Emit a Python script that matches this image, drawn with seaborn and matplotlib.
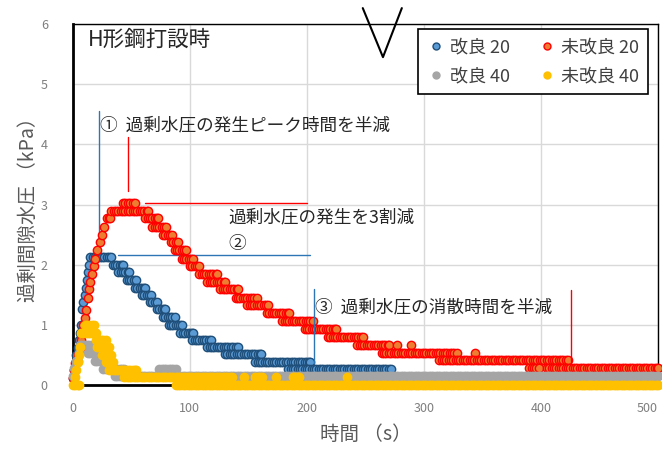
import numpy as np
import pandas as pd
import seaborn as sns
import matplotlib.pyplot as plt
from matplotlib.lines import Line2D

# 記録間隔 (s)
dt = 2.0

# 各系列: 一定値が続いた区間 (開始時刻, 終了時刻, 過剰間隙水圧 kPa)
blue_t0 = [0, 1, 3, 4, 5, 6, 7, 8, 9, 10, 11, 12, 13, 14,
           15, 34, 39, 46, 53, 59, 66, 72, 77, 82, 92, 102, 115, 130, 156, 184]
blue_t1 = [0, 1, 3, 4, 5, 6, 7, 8, 9, 10, 11, 12, 13, 14,
           33, 43, 48, 54, 62, 67, 72, 79, 87, 93, 103, 118, 141, 161, 203, 272]
blue_v = [0.12, 0.25, 0.50, 0.62, 0.75, 0.87, 1.00, 1.26, 1.38, 1.49, 1.61, 1.74, 1.88, 2.00,
          2.13, 2.00, 1.88, 1.74, 1.61, 1.49, 1.38, 1.26, 1.13, 1.00, 0.87, 0.75, 0.63, 0.51, 0.38, 0.26]

red_t0 = [0, 1, 2, 4, 6, 7, 8, 9, 10, 11, 13, 14, 15, 16, 18, 19, 21, 23, 25, 27, 29,
          33, 43, 62, 68, 77, 84, 87, 93, 100, 108, 115, 126, 139, 149, 166, 179, 198, 218,
          243, 277, 289, 264, 344, 313, 390, 405]
red_t1 = [0, 1, 2, 4, 6, 7, 8, 9, 10, 11, 13, 14, 15, 16, 18, 19, 21, 23, 25, 27, 32,
          64, 53, 73, 80, 85, 90, 97, 103, 108, 123, 130, 141, 157, 167, 185, 205, 225, 248,
          270, 277, 289, 328, 344, 423, 398, 500]
red_v = [0.12, 0.25, 0.37, 0.50, 0.62, 0.75, 0.87, 1.00, 1.12, 1.24, 1.45, 1.59, 1.71, 1.85, 1.97, 2.10, 2.24, 2.37, 2.50, 2.63, 2.78,
         2.90, 3.03, 2.78, 2.63, 2.50, 2.37, 2.24, 2.10, 1.97, 1.85, 1.71, 1.59, 1.45, 1.33, 1.19, 1.06, 0.93, 0.80,
         0.67, 0.67, 0.67, 0.54, 0.54, 0.41, 0.29, 0.29]

gray_t0 = [0, 1, 2, 3, 5, 6, 13, 19, 26, 74, 36]
gray_t1 = [0, 1, 2, 4, 5, 16, 25, 30, 44, 88, 500]
gray_v = [0.15, 0.28, 0.28, 0.40, 0.53, 0.66, 0.53, 0.40, 0.27, 0.27, 0.15]

yel_t0 = [0, 2, 3, 4, 5, 6, 7, 10, 20, 21, 25, 28, 31, 44, 146, 156, 174, 188, 234, 88]
yel_t1 = [5, 2, 3, 4, 5, 6, 20, 18, 28, 31, 33, 34, 54, 136, 146, 162, 174, 193, 234, 500]
yel_v = [0.0, 0.13, 0.25, 0.38, 0.50, 0.63, 0.87, 0.99, 0.75, 0.63, 0.50, 0.38, 0.25, 0.13, 0.13, 0.13, 0.13, 0.13, 0.13, 0.0]

series_names = ['改良 20', '未改良 20', '改良 40', '未改良 40']
fills = ['#5b9bd5', '#ed7d31', '#a5a5a5', '#ffc000']
edges = ['#1f4e79', '#ff0000', '#a5a5a5', '#ffc000']

x_ticks = [0, 100, 200, 300, 400, 500]
y_ticks = [0, 1, 2, 3, 4, 5, 6]


def expand(t0, t1, v, name):
    rows = []
    for a, b, c in zip(t0, t1, v):
        for t in np.arange(a, b + 0.01, dt):
            rows.append((t, c, name))
        if b - a > 0 and (b - a) % dt:
            rows.append((b, c, name))
    return pd.DataFrame(rows, columns=['時間', '水圧', '系列'])


df = pd.concat([
    expand(blue_t0, blue_t1, blue_v, series_names[0]),
    expand(red_t0, red_t1, red_v, series_names[1]),
    expand(gray_t0, gray_t1, gray_v, series_names[2]),
    expand(yel_t0, yel_t1, yel_v, series_names[3]),
])

sns.set_style('white')
plt.rcParams['font.family'] = ['Noto Sans CJK JP', 'DejaVu Sans']
plt.rcParams['axes.unicode_minus'] = False

fig = plt.figure(figsize=(6.62, 4.5), dpi=100)
ax = fig.add_axes([0.110, 0.1444, 0.884, 0.8023])

handles = []
for name, fc, ec in zip(series_names, fills, edges):
    sub = df[df['系列'] == name]
    sns.scatterplot(x=sub['時間'], y=sub['水圧'], ax=ax, color=fc, edgecolor=ec,
                    s=36, linewidth=1.0, clip_on=False, zorder=3, legend=False)
    handles.append(Line2D([], [], ls='', marker='o', markersize=5, markerfacecolor=fc,
                          markeredgecolor=ec, markeredgewidth=1.0, label=name))

ax.set_xlim(0, 500)
ax.set_ylim(0, 6)
ax.set_xticks(x_ticks)
ax.set_yticks(y_ticks)
ax.grid(True, color='#d9d9d9', linewidth=1.0)
ax.set_axisbelow(True)
ax.tick_params(axis='x', length=0, labelsize=9, labelcolor='#7f7f7f', pad=12)
ax.tick_params(axis='y', length=0, labelsize=9, labelcolor='#7f7f7f', pad=18)
# 右端の目盛ラベルが切れないよう右寄せ
ax.get_xticklabels()[-1].set_horizontalalignment('right')
for side in ['left', 'bottom']:
    ax.spines[side].set_linewidth(2.0)
    ax.spines[side].set_color('black')
for side in ['top', 'right']:
    ax.spines[side].set_linewidth(1.0)
    ax.spines[side].set_color('black')

ax.set_xlabel('時間 （s）', fontsize=14, color='#595959', labelpad=7)
ax.set_ylabel('過剰間隙水圧 （kPa）', fontsize=14, color='#595959', labelpad=1)

# 凡例
leg = ax.legend(handles=[handles[0], handles[2], handles[1], handles[3]], ncol=2,
                loc='upper right', bbox_to_anchor=(0.983, 0.985), borderaxespad=0,
                fontsize=13, frameon=True, fancybox=False, edgecolor='black', framealpha=1,
                handletextpad=0.3, columnspacing=1.5, borderpad=0.5, labelspacing=0.6,
                handlelength=1.0)
leg.get_frame().set_linewidth(1.2)
for txt in leg.get_texts():
    txt.set_color('#404040')

# 注記
ax.text(12.8, 5.74, 'H形鋼打設時', fontsize=15.5, va='center', ha='left')
ax.text(23, 4.31, '①  過剰水圧の発生ピーク時間を半減', fontsize=12.7, va='center', ha='left')
ax.text(132.5, 2.79, '過剰水圧の発生を3割減', fontsize=12.7, va='center', ha='left')
ax.text(132.5, 2.34, '②', fontsize=12.7, va='center', ha='left')
ax.text(207, 1.29, '③  過剰水圧の消散時間を半減', fontsize=12.7, va='center', ha='left')

ax.plot([22.2, 22.2], [2.15, 4.55], color='#2e75b6', lw=1.0, zorder=2)
ax.plot([47, 47], [3.23, 4.13], color='#ff0000', lw=1.0, zorder=2)
ax.plot([61.5, 200], [3.03, 3.03], color='#ff0000', lw=1.0, zorder=2)
ax.plot([38.5, 202.5], [2.16, 2.16], color='#2e75b6', lw=1.0, zorder=2)
ax.plot([206, 206], [0.37, 1.6], color='#2e75b6', lw=1.0, zorder=4)
ax.plot([425.6, 425.6], [0.37, 1.58], color='#ff0000', lw=1.0, zorder=4)

# 上部の V 字線
fig.add_artist(Line2D([0.548, 0.5785, 0.607], [0.982, 0.873, 0.982], color='black', lw=1.5, zorder=10))

fig.savefig('out.png', dpi=100)
